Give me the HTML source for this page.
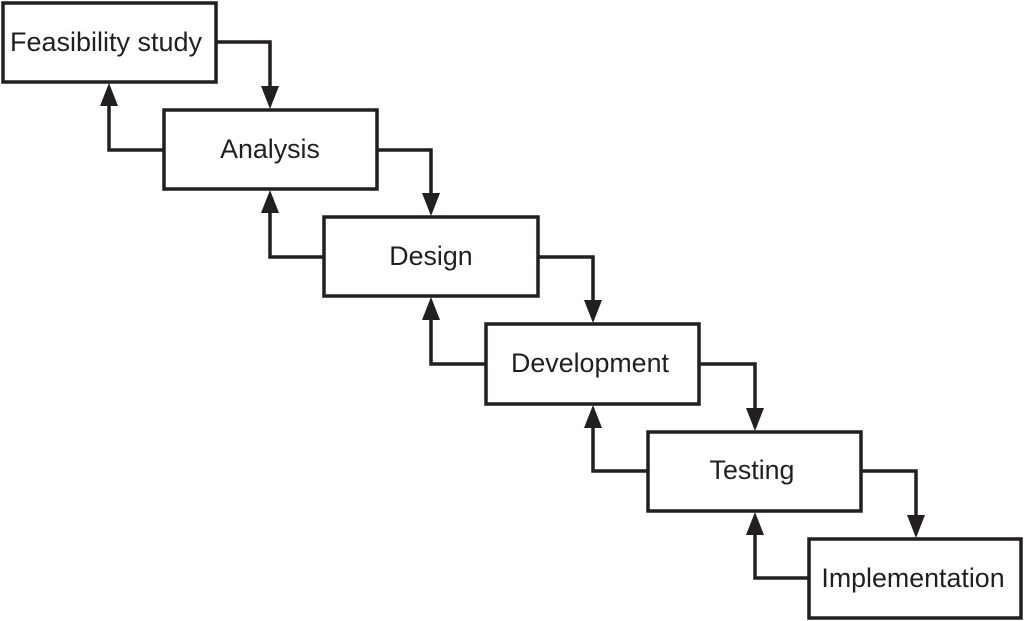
<!DOCTYPE html>
<html><head><style>body{margin:0;background:#fff}svg{display:block}</style></head><body>
<svg width="1024" height="621" viewBox="0 0 1024 621" xmlns="http://www.w3.org/2000/svg" font-family="Liberation Sans, Arial, sans-serif" font-size="26.8" fill="#231f20">
<g stroke="#231f20" stroke-width="3.5" fill="none">
<rect x="3" y="3" width="213" height="79"/>
<rect x="164" y="110" width="213" height="79"/>
<rect x="324" y="217" width="214" height="79"/>
<rect x="486" y="324" width="213" height="80"/>
<rect x="648" y="432" width="213" height="79"/>
<rect x="809" y="539" width="212" height="79"/>
<polyline points="216,42 270,42 270,92"/>
<polyline points="377,150 431,150 431,199"/>
<polyline points="538,257 593,257 593,306"/>
<polyline points="699,364 755,364 755,414"/>
<polyline points="861,471 916,471 916,521"/>
<polyline points="164,150 109,150 109,100"/>
<polyline points="324,257 270,257 270,207"/>
<polyline points="486,364 431,364 431,314"/>
<polyline points="648,471 593,471 593,422"/>
<polyline points="809,578 755,578 755,529"/>
</g>
<g fill="#231f20">
<polygon points="261,86 279,86 270,109"/>
<polygon points="422,193 440,193 431,216"/>
<polygon points="584,300 602,300 593,323"/>
<polygon points="746,408 764,408 755,431"/>
<polygon points="907,515 925,515 916,538"/>
<polygon points="100,106 118,106 109,83"/>
<polygon points="261,213 279,213 270,190"/>
<polygon points="422,320 440,320 431,297"/>
<polygon points="584,428 602,428 593,405"/>
<polygon points="746,535 764,535 755,512"/>
</g>
<g text-anchor="middle">
<text x="106" y="51" textLength="192" lengthAdjust="spacingAndGlyphs">Feasibility study</text>
<text x="270" y="158">Analysis</text>
<text x="431" y="265">Design</text>
<text x="590" y="372">Development</text>
<text x="752" y="479">Testing</text>
<text x="913" y="587">Implementation</text>
</g>
</svg>
</body></html>
